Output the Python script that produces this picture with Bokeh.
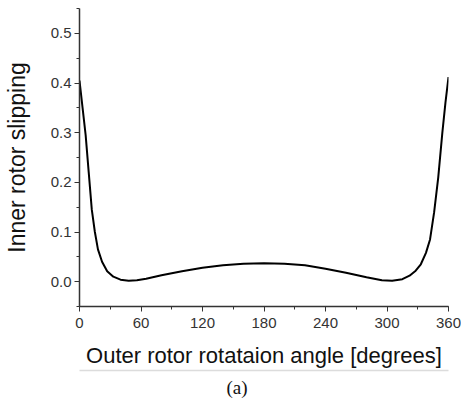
from bokeh.plotting import figure
from bokeh.embed import file_html
from bokeh.resources import INLINE
from bokeh.models import (SingleIntervalTicker, PrintfTickFormatter, LinearAxis,
                          FixedTicker, Title, Range1d)

# data
angle = [0, 3, 6, 9, 12, 15, 18, 22, 27, 33, 40, 48, 56, 65, 80, 100, 120, 140,
         160, 180, 200, 220, 240, 260, 280, 295, 305, 315, 322, 328, 333, 338,
         342, 346, 350, 354, 357, 360]
slip = [0.405, 0.35, 0.295, 0.22, 0.145, 0.10, 0.065, 0.040, 0.021, 0.010,
        0.004, 0.002, 0.003, 0.006, 0.013, 0.021, 0.028, 0.033, 0.036, 0.037,
        0.036, 0.033, 0.026, 0.018, 0.009, 0.003, 0.002, 0.005, 0.012, 0.022,
        0.035, 0.058, 0.085, 0.14, 0.21, 0.30, 0.36, 0.412]

x_label = "Outer rotor rotataion angle [degrees]"
y_label = "Inner rotor slipping"
caption = "(a)"

FONT = "Liberation Sans"
AX = "#333333"

p = figure(width=461, height=402, output_backend="svg", toolbar_location=None,
           x_range=Range1d(0, 360), y_range=Range1d(-0.05, 0.55),
           x_axis_type=None, y_axis_type=None,
           min_border_left=75, min_border_right=13, min_border_top=8,
           min_border_bottom=0)
p.outline_line_color = None
p.xgrid.visible = False
p.ygrid.visible = False
p.background_fill_color = "white"
p.border_fill_color = "white"

xaxis = LinearAxis(ticker=SingleIntervalTicker(interval=60, num_minor_ticks=2),
                   axis_label=x_label)
yaxis = LinearAxis(ticker=SingleIntervalTicker(interval=0.1, num_minor_ticks=2),
                   formatter=PrintfTickFormatter(format="%.1f"),
                   axis_label=y_label)
for ax, lblsize in ((xaxis, "22px"), (yaxis, "23px")):
    ax.axis_line_color = AX
    ax.axis_line_width = 1.5
    ax.major_tick_line_color = AX
    ax.minor_tick_line_color = AX
    ax.major_tick_in = 0
    ax.major_tick_out = 5
    ax.minor_tick_in = 0
    ax.minor_tick_out = 3
    ax.major_label_text_font = FONT
    ax.major_label_text_font_size = "15px"
    ax.major_label_text_color = AX
    ax.axis_label_text_font = FONT
    ax.axis_label_text_font_size = lblsize
    ax.axis_label_text_font_style = "normal"
    ax.axis_label_text_color = "#111111"
xaxis.major_label_standoff = 6
xaxis.axis_label_standoff = 12
yaxis.major_label_standoff = 3
yaxis.axis_label_standoff = 18
p.add_layout(xaxis, "below")
p.add_layout(yaxis, "left")

# faint grey separator line under the axis label
sep = LinearAxis(ticker=FixedTicker(ticks=[]), axis_line_color="#dcdcdc",
                 axis_line_width=1.5,
                 major_label_text_font_size="0px", major_label_standoff=0,
                 major_tick_line_color=None, minor_tick_line_color=None,
                 major_tick_out=0, minor_tick_out=0)
p.add_layout(sep, "below")

p.add_layout(Title(text=caption, align="left", offset=147, standoff=9,
                   text_font="Liberation Serif", text_font_size="19px",
                   text_font_style="normal", text_color="#111111"), "below")

p.line(angle, slip, line_color="black", line_width=2)

open("out.html", "w").write(file_html(p, INLINE))
